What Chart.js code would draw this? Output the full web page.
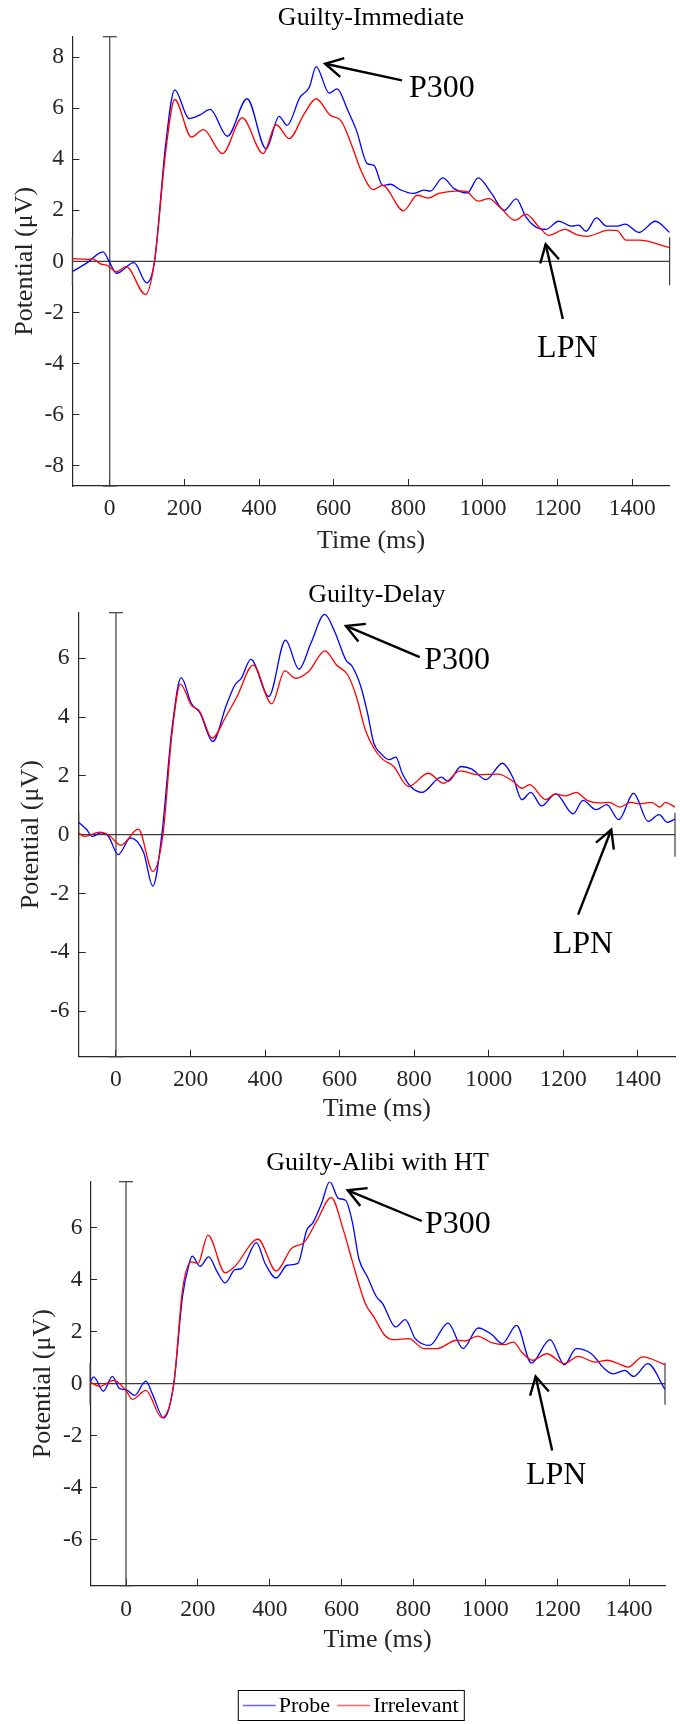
<!DOCTYPE html>
<html><head><meta charset="utf-8">
<script src="https://cdn.jsdelivr.net/npm/chart.js@4.4.1/dist/chart.umd.min.js"></script>
<style>
html,body{margin:0;padding:0;background:#fff;}
#wrap{position:relative;width:680px;height:1724px;overflow:hidden;}
canvas{position:absolute;left:0;display:block;}
</style></head><body>
<div id="wrap">
<canvas id="c1" width="680" height="570" style="top:0px"></canvas>
<canvas id="c2" width="680" height="560" style="top:570px"></canvas>
<canvas id="c3" width="680" height="594" style="top:1130px"></canvas>
</div>
<script>
// ---------- data ----------
const xTicks = [0, 200, 400, 600, 800, 1000, 1200, 1400];
const yTicksImmediate = [-8, -6, -4, -2, 0, 2, 4, 6, 8];
const yTicksDelay = [-6, -4, -2, 0, 2, 4, 6];
const yTicksAlibi = [-6, -4, -2, 0, 2, 4, 6];
const seriesNames = ['Probe', 'Irrelevant'];
const panelTitles = ['Guilty-Immediate', 'Guilty-Delay', 'Guilty-Alibi with HT'];

// Guilty-Immediate
const imProbeT = [-100,-60,-18,0,18,65,99,120,150,174,213,242,269,315,368,419,454,475,510,535,553,588,609,638,661,690,708,731,752,778,813,842,859,892,923,958,987,1022,1057,1089,1115,1138,1168,1203,1238,1256,1276,1304,1331,1360,1381,1418,1462,1500];
const imProbeV = [-0.40,-0.05,0.37,-0.05,-0.47,-0.05,-0.84,0.0,4.6,6.72,5.59,5.74,5.95,4.90,6.37,4.41,5.68,5.33,6.43,6.83,7.63,6.59,6.76,5.91,5.13,3.83,3.76,2.98,3.02,2.81,2.66,2.79,2.75,3.27,2.85,2.68,3.27,2.68,2.00,2.45,1.74,1.38,1.25,1.57,1.38,1.42,1.18,1.70,1.38,1.38,1.46,1.13,1.57,1.13];
const imIrrT = [-100,-60,-45,-25,-8,18,44,96,120,150,174,219,251,302,355,411,446,481,521,553,591,620,650,673,706,731,787,824,853,882,941,958,987,1016,1045,1086,1115,1150,1176,1220,1250,1279,1337,1360,1383,1418,1500];
const imIrrV = [0.11,0.08,0.10,-0.10,-0.15,-0.41,-0.21,-1.30,0.0,4.3,6.34,4.87,5.16,4.22,5.62,4.22,5.35,4.81,5.78,6.37,5.72,5.50,4.48,3.57,2.81,2.98,1.98,2.59,2.48,2.66,2.76,2.72,2.36,2.46,2.13,1.61,1.85,1.35,1.02,1.25,1.05,0.98,1.22,1.20,0.83,0.83,0.54];

// Guilty-Delay
const dlProbeT = [-100,-78,-64,-41,-20,6,39,74,99,123,150,175,202,225,260,295,319,336,362,410,455,491,523,560,587,617,634,657,675,692,710,733,751,768,792,821,873,891,926,955,993,1037,1066,1089,1113,1142,1180,1227,1253,1288,1317,1349,1389,1428,1457,1480,1500];
const dlProbeV = [0.42,0.17,-0.06,0.06,-0.06,-0.68,-0.11,-0.60,-1.75,0.0,3.57,5.34,4.47,4.15,3.17,4.36,5.09,5.32,5.96,4.70,6.62,5.63,6.51,7.49,6.90,5.94,5.72,5.04,4.13,3.11,2.77,2.55,2.64,2.09,1.62,1.44,1.96,1.81,2.32,2.23,1.87,2.43,1.92,1.19,1.44,0.98,1.39,0.71,1.17,0.85,1.02,0.51,1.41,0.45,0.68,0.42,0.53];
const dlIrrT = [-100,-84,-43,-20,13,60,99,126,150,173,202,225,258,295,325,368,418,453,482,517,561,592,622,645,669,692,715,745,785,838,879,923,972,1025,1066,1089,1110,1153,1179,1206,1235,1264,1299,1323,1352,1381,1404,1437,1460,1474,1500];
const dlIrrV = [0.06,-0.06,0.09,0.0,-0.36,0.19,-1.25,0.0,3.4,5.12,4.41,4.19,3.28,4.02,4.70,5.77,4.45,5.57,5.32,5.55,6.25,5.77,5.43,4.70,3.57,2.94,2.57,2.32,1.64,2.09,1.75,2.17,2.04,2.06,1.81,1.58,1.70,1.19,1.39,1.32,1.44,1.17,1.08,1.10,0.94,1.10,1.05,1.10,0.94,1.10,0.94];

// Guilty-Alibi with HT
const alProbeT = [-100,-90,-63,-38,-18,0,24,55,73,105,133,157,176,184,206,230,254,276,303,321,363,387,418,448,478,503,520,544,567,591,611,630,648,672,696,714,750,777,805,845,896,938,980,1017,1047,1087,1128,1180,1220,1253,1295,1331,1356,1388,1413,1452,1500];
const alProbeV = [0.06,0.26,-0.29,0.28,-0.19,-0.23,-0.45,0.10,-0.38,-1.32,0.0,3.33,4.62,4.90,4.51,4.87,4.29,3.87,4.38,4.42,5.42,4.62,4.06,4.55,4.62,5.90,6.18,6.92,7.76,7.12,7.05,6.20,4.80,4.10,3.36,3.08,2.18,2.46,1.73,1.47,2.33,1.35,2.14,1.90,1.54,2.24,0.79,1.69,0.73,1.35,1.15,0.58,0.38,0.51,0.28,0.77,-0.22];
const alIrrT = [-100,-72,-34,0,18,55,100,133,157,182,200,228,276,303,367,418,460,497,532,571,605,629,666,690,720,745,787,829,866,920,944,978,1017,1053,1078,1101,1131,1171,1220,1258,1306,1340,1367,1397,1438,1500];
const alIrrV = [0.06,-0.10,0.13,-0.26,-0.60,-0.26,-1.31,0.0,3.59,4.68,4.62,5.71,4.26,4.51,5.55,4.33,5.19,5.45,6.28,7.15,5.90,4.74,3.08,2.56,1.86,1.69,1.73,1.35,1.35,1.67,1.64,1.83,1.58,1.50,1.60,1.22,0.90,1.15,0.77,1.05,0.83,0.90,0.79,0.64,1.03,0.73];

// ---------- rendering ----------
Chart.defaults.font.family = '"Liberation Serif", "Times New Roman", serif';
Chart.defaults.color = '#262626';
const X_MIN = -100, X_MAX = 1500;
const AX = '#262626', REF = '#3c3c3c';
const TICK_SIZE = 23.5, LABEL_SIZE = 26;

function pts(t, v) { return t.map((x, i) => ({x: x, y: v[i]})); }

const annotatePlugin = {
  id: 'annotate',
  afterDatasetsDraw(chart, args, opts) {
    const ctx = chart.ctx, xs = chart.scales.x, ys = chart.scales.y;
    ctx.save();
    ctx.strokeStyle = '#000'; ctx.fillStyle = '#000';
    ctx.lineWidth = 2.4; ctx.lineCap = 'butt'; ctx.lineJoin = 'miter';
    (opts.items || []).forEach(it => {
      const tx = xs.getPixelForValue(it.tip[0]), ty = ys.getPixelForValue(it.tip[1]);
      const sx = xs.getPixelForValue(it.tail[0]), sy = ys.getPixelForValue(it.tail[1]);
      ctx.beginPath(); ctx.moveTo(sx, sy); ctx.lineTo(tx, ty); ctx.stroke();
      const a = Math.atan2(ty - sy, tx - sx), L = 20, w = 0.5;
      ctx.beginPath();
      ctx.moveTo(tx - L * Math.cos(a - w), ty - L * Math.sin(a - w));
      ctx.lineTo(tx, ty);
      ctx.lineTo(tx - L * Math.cos(a + w), ty - L * Math.sin(a + w));
      ctx.stroke();
      ctx.font = '32px "Liberation Serif", serif';
      ctx.textAlign = it.align; ctx.textBaseline = 'alphabetic';
      ctx.fillText(it.text, xs.getPixelForValue(it.at[0]), ys.getPixelForValue(it.at[1]));
    });
    ctx.restore();
  }
};

const boxLegendPlugin = {
  id: 'boxLegend',
  afterDraw(chart, args, opts) {
    if (!opts.show) return;
    const ctx = chart.ctx;
    ctx.save();
    ctx.strokeStyle = '#000'; ctx.lineWidth = 1;
    ctx.strokeRect(opts.left + 0.5, opts.top + 0.5, opts.width, opts.height);
    ctx.font = '22px "Liberation Serif", serif';
    ctx.textBaseline = 'middle'; ctx.textAlign = 'left'; ctx.fillStyle = '#000';
    let cx = opts.left + 5;
    const cy = opts.top + opts.height / 2 + 0.5;
    chart.data.datasets.filter(d => d.label).forEach(d => {
      ctx.strokeStyle = d.borderColor; ctx.globalAlpha = 0.6; ctx.lineWidth = 1.6;
      ctx.beginPath(); ctx.moveTo(cx, cy); ctx.lineTo(cx + 33, cy); ctx.stroke();
      ctx.globalAlpha = 1;
      ctx.fillText(d.label, cx + 36, cy + 1);
      cx += 36 + ctx.measureText(d.label).width + 7;
    });
    ctx.restore();
  }
};

function makeChart(id, c) {
  return new Chart(document.getElementById(id), {
    type: 'line',
    data: {
      datasets: [
        {label: seriesNames[0], data: pts(c.probeT, c.probeV), borderColor: '#0000ff', borderWidth: 1.3,
         pointRadius: 0, pointHoverRadius: 0, cubicInterpolationMode: 'monotone', fill: false, order: 1},
        {label: seriesNames[1], data: pts(c.irrT, c.irrV), borderColor: '#ff0000', borderWidth: 1.3,
         pointRadius: 0, pointHoverRadius: 0, cubicInterpolationMode: 'monotone', fill: false, order: 0},
        {data: [{x: X_MIN, y: 0}, {x: X_MAX, y: 0}], borderColor: REF, borderWidth: 1.2,
         pointStyle: 'line', pointRadius: c.capY, pointHoverRadius: c.capY, pointRotation: 90, pointBorderColor: REF,
         pointBorderWidth: 1.2, pointBackgroundColor: 'rgba(0,0,0,0)', clip: false, order: 3},
        {data: [{x: 0, y: c.yMin}, {x: 0, y: c.yMax}], borderColor: REF, borderWidth: 1.2,
         pointStyle: 'line', pointRadius: 7, pointHoverRadius: 7, pointRotation: 0, pointBorderColor: REF,
         pointBorderWidth: 1.2, pointBackgroundColor: 'rgba(0,0,0,0)', clip: false, order: 2}
      ]
    },
    options: {
      responsive: false, animation: false, devicePixelRatio: 1,
      events: [],
      layout: {autoPadding: false, padding: {top: 0, left: 0, right: c.padR, bottom: c.padB}},
      plugins: {
        legend: {display: false}, tooltip: {enabled: false},
        title: {display: true, text: c.title, fullSize: false, color: '#000',
                font: {size: LABEL_SIZE, weight: 'normal'}, padding: {top: c.tTop, bottom: c.tBot}},
        annotate: {items: c.notes},
        boxLegend: c.legend || {show: false}
      },
      scales: {
        x: {
          type: 'linear', min: X_MIN, max: X_MAX,
          afterBuildTicks: s => { s.ticks = xTicks.map(v => ({value: v})); },
          afterFit: s => { s.height = c.xH; s.paddingLeft = 0; s.paddingRight = 0; },
          grid: {drawOnChartArea: false, drawTicks: true, tickLength: -7, color: AX, lineWidth: 1},
          border: {display: true, color: AX, width: 1.2},
          ticks: {callback: v => String(v), color: AX, font: {size: TICK_SIZE}, padding: c.xTickPad,
                  maxRotation: 0, minRotation: 0, autoSkip: false},
          title: {display: true, text: 'Time (ms)', color: AX, font: {size: LABEL_SIZE},
                  padding: {top: 0, bottom: c.xTitlePad}}
        },
        y: {
          type: 'linear', min: c.yMin, max: c.yMax,
          afterBuildTicks: s => { s.ticks = c.yTicks.map(v => ({value: v})); },
          afterFit: s => { s.width = c.yW; s.paddingTop = 0; s.paddingBottom = 0; },
          grid: {drawOnChartArea: false, drawTicks: true, tickLength: -7, color: AX, lineWidth: 1},
          border: {display: true, color: AX, width: 1.2},
          ticks: {callback: v => String(v), color: AX, font: {size: TICK_SIZE}, padding: c.yTickPad},
          title: {display: true, text: 'Potential (μV)', color: AX, font: {size: LABEL_SIZE},
                  padding: {top: c.yTitlePad, bottom: 0}}
        }
      }
    },
    plugins: [annotatePlugin, boxLegendPlugin]
  });
}

makeChart('c1', {
  title: panelTitles[0], probeT: imProbeT, probeV: imProbeV, irrT: imIrrT, irrV: imIrrV,
  yMin: -8.8, yMax: 8.8, yTicks: yTicksImmediate, capY: 24,
  padR: 10.4, padB: 0, tTop: 2.6, tBot: 2.9, xH: 84, yW: 72.4,
  xTickPad: 15.9, xTitlePad: 13.4, yTickPad: 15.4, yTitlePad: 9.4,
  notes: [
    {text: 'P300', tip: [577, 7.74], tail: [783, 7.09], at: [802, 6.44], align: 'left'},
    {text: 'LPN', tip: [1168, 0.67], tail: [1214, -2.26], at: [1226, -3.76], align: 'center'}
  ]
});
makeChart('c2', {
  title: panelTitles[1], probeT: dlProbeT, probeV: dlProbeV, irrT: dlIrrT, irrV: dlIrrV,
  yMin: -7.55, yMax: 7.55, yTicks: yTicksDelay, capY: 22,
  padR: 5, padB: 0, tTop: 9.2, tBot: 2.3, xH: 73.3, yW: 78.7,
  xTickPad: 16.2, xTitlePad: 5.4, yTickPad: 16.1, yTitlePad: 15.9,
  notes: [
    {text: 'P300', tip: [617, 7.1], tail: [815, 6.04], at: [827, 5.64], align: 'left'},
    {text: 'LPN', tip: [1329, 0.17], tail: [1240, -2.72], at: [1253, -4.04], align: 'center'}
  ]
});
makeChart('c3', {
  title: panelTitles[2], probeT: alProbeT, probeV: alProbeV, irrT: alIrrT, irrV: alIrrV,
  yMin: -7.76, yMax: 7.76, yTicks: yTicksAlibi, capY: 21,
  padR: 15, padB: 54, tTop: 17.9, tBot: 2.6, xH: 84.3, yW: 90.1,
  xTickPad: 17.2, xTitlePad: 14.4, yTickPad: 14.5, yTitlePad: 27.4,
  notes: [
    {text: 'P300', tip: [617, 7.43], tail: [823, 6.25], at: [832, 5.78], align: 'left'},
    {text: 'LPN', tip: [1140, 0.28], tail: [1186, -2.57], at: [1197, -3.87], align: 'center'}
  ],
  legend: {show: true, left: 237.8, top: 560, width: 226, height: 30}
});
</script>
</body></html>
